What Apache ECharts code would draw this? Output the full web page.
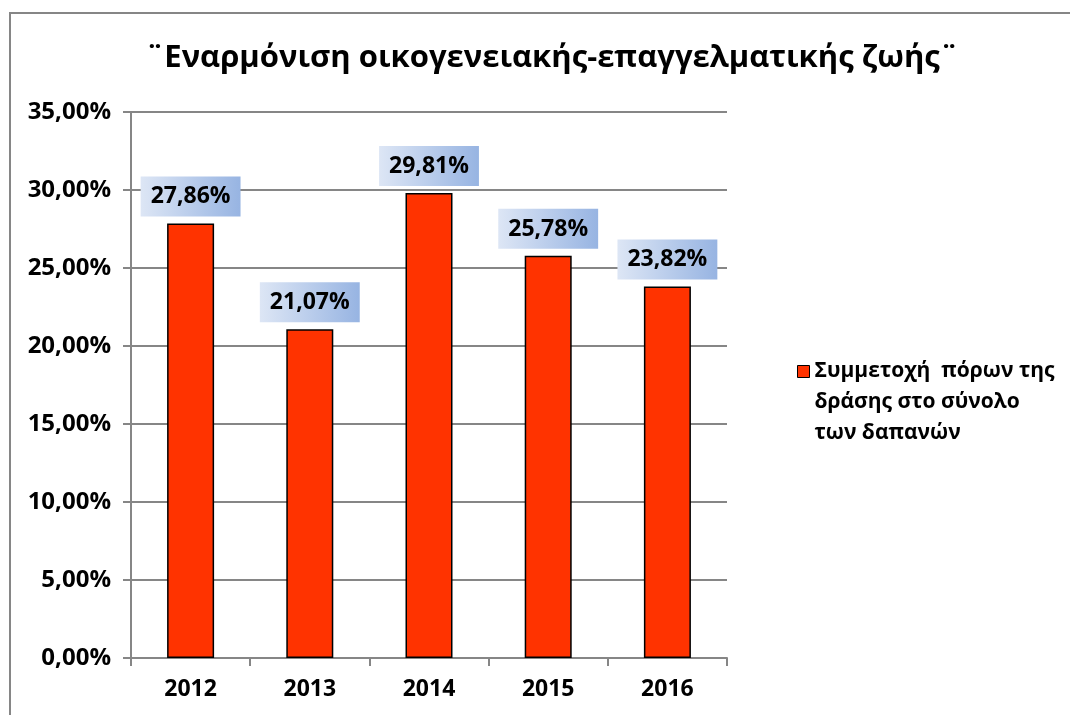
<!DOCTYPE html>
<html>
<head>
<meta charset="utf-8">
<script src="https://cdn.jsdelivr.net/npm/echarts@6/dist/echarts.min.js"></script>
<style>
  html, body { margin: 0; padding: 0; background: #fff; }
  #chart { width: 1070px; height: 715px; }
</style>
</head>
<body>
<div id="chart"></div>
<script>
var years = ['2012', '2013', '2014', '2015', '2016'];
var shares = [27.86, 21.07, 29.81, 25.78, 23.82];
var seriesName = 'Συμμετοχή  πόρων της\nδράσης στο σύνολο\nτων δαπανών';
var chartTitle = '¨Εναρμόνιση οικογενειακής-επαγγελματικής ζωής¨';

var font = '"Open Sans", "Noto Sans", sans-serif';

//μορφή 27,86%
function pct(v){
  return v.toFixed(2).replace('.', ',') + '%'
}

var chart = echarts.init(document.getElementById('chart'));
var option = {
  backgroundColor: '#fff',
  animation: false,
  graphic: [{
    type: 'polyline',
    shape: { points: [[10, 715], [10, 13], [1070, 13]] },
    style: { stroke: '#868686', lineWidth: 2, fill: null }
  }],
  title: {
    text: chartTitle,
    left: 547,
    textAlign: 'center',
    top: 38,
    textStyle: { fontFamily: font, fontWeight: 'bold', fontSize: 31, color: '#000' }
  },
  legend: {
    left: 792,
    top: 289,
    orient: 'vertical',
    itemWidth: 12,
    itemHeight: 12,
    itemGap: 4,
    icon: 'rect',
    itemStyle: { borderColor: '#000', borderWidth: 1 },
    textStyle: {
      fontFamily: font, fontWeight: 'bold', fontSize: 21, color: '#000', lineHeight: 31
    },
    // δύο κενές γραμμές ώστε το τετράγωνο να στέκεται στην πρώτη γραμμή
    formatter: function(name){ return '\n\n' + name },
    data: [seriesName]
  },
  grid: { left: 131, right: 343, top: 112, bottom: 57 },
  xAxis: {
    type: 'category',
    data: years,
    axisLine: { lineStyle: { color: '#868686', width: 2 } },
    axisTick: { show: true, length: 8, lineStyle: { color: '#868686', width: 2 } },
    axisLabel: { fontFamily: font, fontWeight: 'bold', fontSize: 23, color: '#000', margin: 20 }
  },
  yAxis: {
    type: 'value',
    min: 0, max: 35, interval: 5,
    axisLine: { show: true, lineStyle: { color: '#868686', width: 2 } },
    axisTick: { show: true, length: 8, lineStyle: { color: '#868686', width: 2 } },
    splitLine: { lineStyle: { color: '#868686', width: 2 } },
    axisLabel: {
      fontFamily: font, fontWeight: 'bold', fontSize: 24, color: '#000', margin: 20,
      formatter: function(v){ return pct(v) }
    }
  },
  series: [{
    name: seriesName,
    type: 'bar',
    data: shares,
    barWidth: 47,
    itemStyle: { color: '#ff3300', borderColor: '#000', borderWidth: 1.5 },
    label: {
      show: true,
      position: 'top',
      distance: 7,
      fontFamily: font, fontWeight: 'bold', fontSize: 23, color: '#000',
      padding: [9, 10, 8, 10],
      backgroundColor: new echarts.graphic.LinearGradient(0, 0, 1, 0, [
        { offset: 0, color: '#dde6f5' },
        { offset: 1, color: '#97b4e2' }
      ]),
      formatter: function(p){ return pct(p.value) }
    }
  }]
};
chart.setOption(option);
</script>
</body>
</html>
